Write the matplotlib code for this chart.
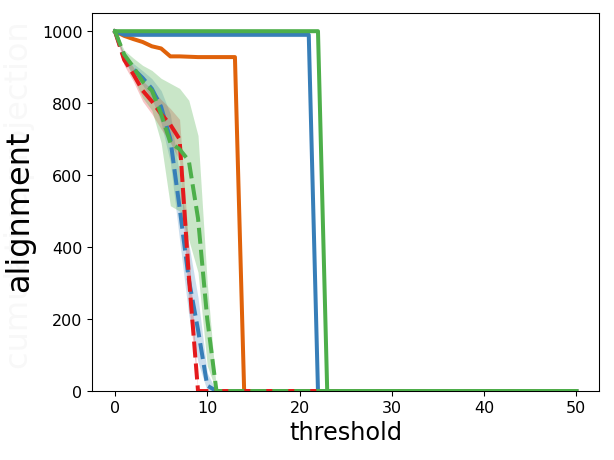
import numpy as np
import matplotlib
matplotlib.use("Agg")
import matplotlib.pyplot as plt

threshold = np.arange(0, 51)

def pad(vals, n=51):
    vals = list(vals)
    return np.array(vals + [0] * (n - len(vals)), dtype=float)

# solid series
orange_solid = pad([1000, 987, 978, 970, 958, 952, 930, 930, 929, 928, 928, 928, 928, 928])
blue_solid = pad([1000] + [990] * 21)
green_solid = pad([1000] * 23)

# dashed series (mean) with bands
red_dashed = pad([1000, 920, 880, 835, 805, 770, 740, 700, 320, 0])
red_lo = pad([1000, 905, 860, 805, 770, 728, 690, 640, 240, 0])
red_hi = pad([1000, 935, 900, 862, 838, 810, 785, 755, 400, 0])

blue_dashed = pad([1000, 925, 895, 870, 840, 790, 700, 510, 310, 170, 15, 0])
blue_lo = pad([1000, 915, 880, 850, 812, 745, 635, 420, 210, 80, 0, 0])
blue_hi = pad([1000, 935, 910, 890, 868, 835, 770, 600, 410, 260, 50, 0])

green_dashed = pad([1000, 935, 900, 860, 835, 770, 690, 672, 640, 480, 200, 0])
green_lo = pad([1000, 925, 870, 815, 780, 690, 515, 500, 420, 330, 70, 0])
green_hi = pad([1000, 947, 925, 905, 891, 869, 855, 841, 808, 710, 300, 0])

C_ORANGE = '#e0620a'
C_BLUE = '#377eb8'
C_RED = '#e41a1c'
C_GREEN = '#4daf4a'

W, H = 615, 461
fig = plt.figure(figsize=(6.4, 4.8), dpi=96)
ax = fig.add_axes([92 / W, 1 - 392 / H, (600 - 92) / W, (392 - 14) / H])

lw = 3
dash = (4, 1.5)

ax.plot(threshold, orange_solid, color=C_ORANGE, lw=lw, zorder=2)
ax.fill_between(threshold, blue_solid - 5, blue_solid, color=C_BLUE, alpha=0.2, lw=0, zorder=1)
ax.plot(threshold, blue_solid, color=C_BLUE, lw=lw, zorder=2)

ax.fill_between(threshold, blue_lo, blue_hi, color=C_BLUE, alpha=0.25, lw=0, zorder=1)
ax.plot(threshold, blue_dashed, color=C_BLUE, lw=lw, dashes=dash, zorder=3)

ax.fill_between(threshold, red_lo, red_hi, color=C_RED, alpha=0.25, lw=0, zorder=1)
ax.plot(threshold, red_dashed, color=C_RED, lw=lw, dashes=dash, zorder=4)

ax.plot(threshold, green_solid, color=C_GREEN, lw=lw, zorder=5)

ax.fill_between(threshold, green_lo, green_hi, color=C_GREEN, alpha=0.3, lw=0, zorder=1)
ax.plot(threshold, green_dashed, color=C_GREEN, lw=lw, dashes=dash, zorder=6)

ax.set_xlim(-2.5, 52.5)
ax.set_ylim(0, 1050)
ax.set_xticks([0, 10, 20, 30, 40, 50])
ax.set_yticks([0, 200, 400, 600, 800, 1000])
ax.tick_params(labelsize=12)

ax.set_xlabel('threshold', fontsize=18)
ax.set_ylabel('alignment', fontsize=24)
ax.yaxis.set_label_coords((35 - 92) / 508, (392 - 211) / 378)

fig.text(35 / W, 1 - 195 / H, 'cumulative projection',
         rotation=90, ha='center', va='bottom', rotation_mode='anchor',
         fontsize=24, color='#f8f8f8', zorder=-1)

fig.savefig('out.png', dpi=96)
